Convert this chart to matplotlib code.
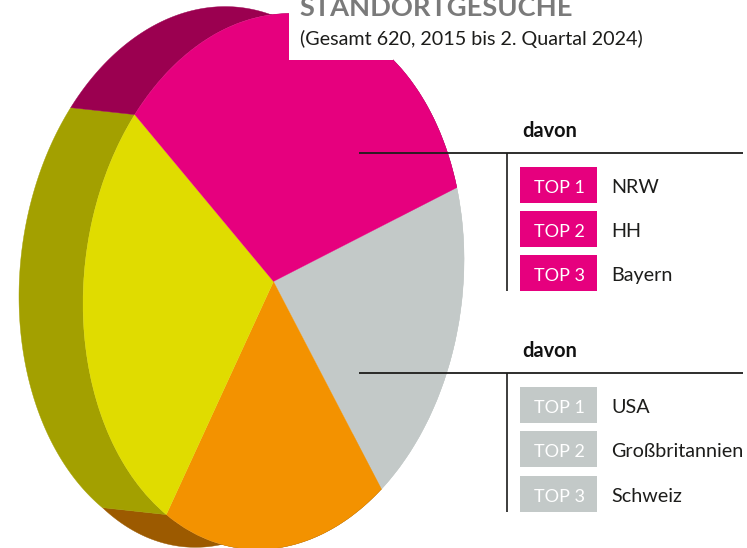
import numpy as np
import matplotlib
matplotlib.use("Agg")
import matplotlib.pyplot as plt
from matplotlib.patches import Wedge, Polygon, Rectangle
from matplotlib.transforms import Affine2D

plt.rcParams['font.family'] = ['Lato', 'DejaVu Sans']

# Shares of the pie (percent), clockwise from the right
shares = [19.8, 19.1, 27.5, 33.6]
top_colors = ["#C3C9C8", "#F39200", "#E0DC00", "#E6007E"]
rim_colors = ["#C3C9C8", "#9C5A00", "#A3A000", "#9B0050"]

title = "STANDORTGESUCHE"
subtitle = "(Gesamt 620, 2015 bis 2. Quartal 2024)"
rank_labels = ["TOP 1", "TOP 2", "TOP 3"]
group_a = ["NRW", "HH", "Bayern"]
group_b = ["USA", "Großbritannien", "Schweiz"]

fig = plt.figure(figsize=(7.47, 5.48), dpi=100)
ax = fig.add_axes([0, 0, 1, 1])
ax.set_xlim(0, 747)
ax.set_ylim(548, 0)
ax.axis("off")

# tilted ellipse: unit circle -> pixel space
cx, cy = 273.5, 281.5
ux, uy = 190.5, -22.0
vx, vy = 0.0, 267.0
ell = Affine2D.from_values(ux, uy, vx, vy, cx, cy)
off_x, off_y = -64, -7.0
start = -15.8

edges = start + np.concatenate([[0], np.cumsum(shares)]) * 3.6

# rim first, the top face covers what is hidden
for i in range(4):
    t = np.radians(np.linspace(edges[i], edges[i + 1], 200))
    xf = cx + ux * np.cos(t) + vx * np.sin(t)
    yf = cy + uy * np.cos(t) + vy * np.sin(t)
    # the back edge bulges a little lower at the bottom of the disc
    bulge = 5 * np.clip((np.sin(t) - 0.83) / 0.17, 0, 1)
    pts = np.vstack([np.column_stack([xf, yf]),
                     np.column_stack([xf + off_x, yf + off_y + bulge])[::-1]])
    ax.add_patch(Polygon(pts, closed=True, fc=rim_colors[i], ec=rim_colors[i], lw=0.3, zorder=1))

for i in range(4):
    ax.add_patch(Wedge((0, 0), 1, edges[i], edges[i + 1], fc=top_colors[i], ec=top_colors[i],
                       lw=0.2, transform=ell + ax.transData, zorder=2))

# white box behind the heading
ax.add_patch(Rectangle((289, 0), 104, 60, fc="white", ec="none", zorder=3))
ax.add_patch(Rectangle((393, 0), 354, 48, fc="white", ec="none", zorder=3))

ax.text(299.5, 16, title, fontsize=19.6, fontweight="bold", color="#7A7A7A", va="baseline", zorder=4)
ax.text(300, 44.5, subtitle, fontsize=14.2, color="#1D1D1B", va="baseline", zorder=4)


def draw_group(line_y, names, box_color, box_tops):
    ax.text(522, line_y - 16, "davon", fontsize=14.4, fontweight="bold", color="#111111", va="baseline", zorder=4)
    ax.plot([359, 743], [line_y, line_y], color="#1D1D1B", lw=1.3, solid_capstyle="butt", zorder=4)
    ax.plot([507, 507], [line_y, box_tops[-1] + 36], color="#1D1D1B", lw=1.2, solid_capstyle="butt", zorder=4)
    for rank, name, top in zip(rank_labels, names, box_tops):
        ax.add_patch(Rectangle((520, top), 77, 36, fc=box_color, ec="none", zorder=3))
        ax.text(534, top + 26, rank, fontsize=13, color="white", va="baseline", zorder=4)
        ax.text(611, top + 26, name, fontsize=14.2, color="#1D1D1B", va="baseline", zorder=4)


draw_group(153, group_a, "#E6007E", [167, 211, 255])
draw_group(373, group_b, "#C3C9C8", [387, 431, 476])

fig.savefig("out.png", dpi=100)
